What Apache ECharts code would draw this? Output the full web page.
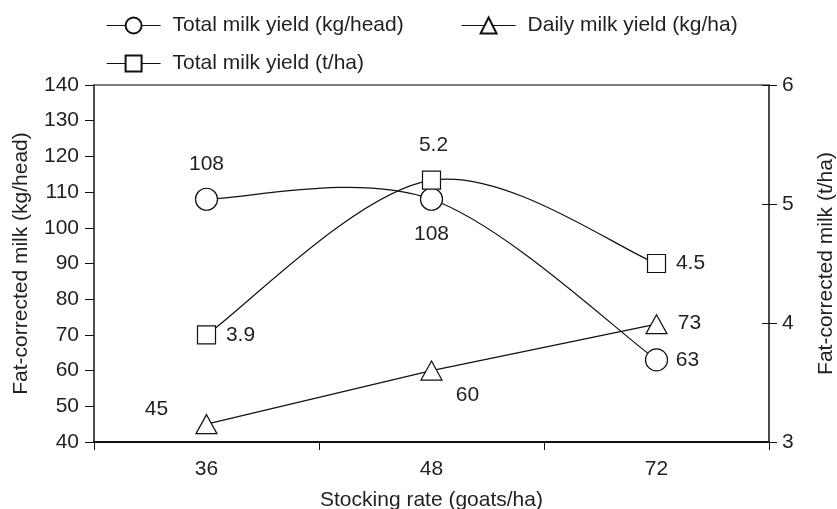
<!DOCTYPE html>
<html>
<head>
<meta charset="utf-8">
<script src="https://cdn.jsdelivr.net/npm/echarts@6/dist/echarts.min.js"></script>
<style>
  html, body { margin: 0; padding: 0; background: #fff; }
  #chart { width: 837px; height: 509px; }
</style>
</head>
<body>
<div id="chart"></div>
<script>
// Stocking rate categories (goats/ha)
const stockingRates = ['36', '48', '72'];

// Fat-corrected milk per head (kg/head), left axis
const totalYieldPerHead = [108, 108, 63];
// Daily milk yield (kg/ha), left axis
const dailyYieldPerHa = [45, 60, 73];
// Total milk yield (t/ha), right axis
const totalYieldPerHa = [3.9, 5.2, 4.5];

// Label placement relative to each marker centre (style only)
const headLabelOffsets = [[0, -35], [0, 35], [31, 0]];
const dailyLabelOffsets = [[-50, -15], [36, 25], [33, -1]];
const haLabelOffsets = [[34, 0], [2, -35], [34, 0]];

const FONT = 'Liberation Sans, Arial, Helvetica, sans-serif';
const INK = '#231f20';
const LINE = '#111';
const FS = 21;

function withLabels(values, offsets) {
  return values.map((v, i) => ({
    value: v,
    label: { offset: offsets[i] }
  }));
}

// Cardinal (Catmull-Rom style) spline segment between point i and i+1,
// positioned through the axes with api.coord.
function splineSegment(values) {
  const n = values.length;
  return function (params, api) {
    const i = params.dataIndex;
    const pt = k => {
      const c = Math.max(0, Math.min(n - 1, k));
      return api.coord([c, values[c]]);
    };
    const p0 = pt(i - 1), p1 = pt(i), p2 = pt(i + 1), p3 = pt(i + 2);
    const t = 1 / 6;
    return {
      type: 'bezierCurve',
      shape: {
        x1: p1[0], y1: p1[1],
        cpx1: p1[0] + (p2[0] - p0[0]) * t, cpy1: p1[1] + (p2[1] - p0[1]) * t,
        cpx2: p2[0] - (p3[0] - p1[0]) * t, cpy2: p2[1] - (p3[1] - p1[1]) * t,
        x2: p2[0], y2: p2[1]
      },
      style: { stroke: LINE, lineWidth: 1.2, fill: null }
    };
  };
}

function segments(values) {
  return values.slice(0, -1).map((v, i) => [i, v]);
}

const baseLabel = {
  show: true,
  position: 'inside',
  color: INK,
  fontFamily: FONT,
  fontSize: FS,
  formatter: p => String(p.value)
};

const chart = echarts.init(document.getElementById('chart'), null, { renderer: 'canvas' });

const legendCommon = {
  orient: 'horizontal',
  padding: 0,
  itemWidth: 54,
  itemHeight: 20,
  selectedMode: false,
  lineStyle: { color: LINE, width: 1.2, opacity: 1, type: 'solid' },
  textStyle: { color: INK, fontFamily: FONT, fontSize: FS, padding: [0, 0, 0, 7] }
};

const markerStyle = { color: '#fff', borderColor: LINE, borderWidth: 1.2, opacity: 1 };

chart.setOption({
  animation: false,
  backgroundColor: '#fff',
  textStyle: { fontFamily: FONT },
  grid: { left: 94, right: 68, top: 85, bottom: 67, containLabel: false, outerBoundsMode: 'none' },
  legend: [
    Object.assign({}, legendCommon, { left: 106, top: 15, data: ['Total milk yield (kg/head)'] }),
    Object.assign({}, legendCommon, { left: 461, top: 15, data: ['Daily milk yield (kg/ha)'] }),
    Object.assign({}, legendCommon, { left: 106, top: 53, data: ['Total milk yield (t/ha)'] })
  ],
  xAxis: [
    {
      type: 'category',
      data: stockingRates,
      boundaryGap: true,
      position: 'bottom',
      name: 'Stocking rate (goats/ha)',
      nameLocation: 'middle',
      nameGap: 48,
      nameTextStyle: { color: INK, fontFamily: FONT, fontSize: FS, verticalAlign: 'top' },
      axisLine: { lineStyle: { color: LINE, width: 2 } },
      axisTick: { show: true, length: 8, alignWithLabel: false, lineStyle: { color: LINE, width: 1 } },
      axisLabel: { color: INK, fontFamily: FONT, fontSize: FS, margin: 17 },
      splitLine: { show: false }
    },
    {
      type: 'category',
      data: stockingRates,
      position: 'top',
      axisLine: { lineStyle: { color: '#555', width: 1.5 } },
      axisTick: { show: false },
      axisLabel: { show: false },
      splitLine: { show: false }
    }
  ],
  yAxis: [
    {
      type: 'value',
      min: 40,
      max: 140,
      interval: 10,
      position: 'left',
      name: 'Fat-corrected milk (kg/head)',
      nameLocation: 'middle',
      nameGap: 62,
      nameRotate: 90,
      nameTextStyle: { color: INK, fontFamily: FONT, fontSize: FS },
      axisLine: { show: true, lineStyle: { color: LINE, width: 1.5 } },
      axisTick: { show: true, length: 9, lineStyle: { color: LINE, width: 1 } },
      axisLabel: { color: INK, fontFamily: FONT, fontSize: FS, margin: 15 },
      splitLine: { show: false }
    },
    {
      type: 'value',
      min: 3,
      max: 6,
      interval: 1,
      position: 'right',
      name: 'Fat-corrected milk (t/ha)',
      nameLocation: 'middle',
      nameGap: 47,
      nameRotate: 90,
      nameTextStyle: { color: INK, fontFamily: FONT, fontSize: FS },
      axisLine: { show: true, lineStyle: { color: LINE, width: 1.5 } },
      axisTick: { show: true, length: 8, lineStyle: { color: LINE, width: 1 } },
      axisLabel: { color: INK, fontFamily: FONT, fontSize: FS, margin: 13 },
      splitLine: { show: false }
    },
    {
      // inner half of the crossing ticks on the right-hand axis
      type: 'value',
      min: 3,
      max: 6,
      interval: 1,
      position: 'right',
      axisLine: { show: false },
      axisTick: { show: true, inside: true, length: 7, lineStyle: { color: LINE, width: 1 } },
      axisLabel: { show: false },
      splitLine: { show: false }
    }
  ],
  series: [
    // smooth connecting curves
    {
      name: 'kg/head curve',
      type: 'custom',
      coordinateSystem: 'cartesian2d',
      xAxisIndex: 0,
      yAxisIndex: 0,
      silent: true,
      renderItem: splineSegment(totalYieldPerHead),
      data: segments(totalYieldPerHead),
      z: 2
    },
    {
      name: 't/ha curve',
      type: 'custom',
      coordinateSystem: 'cartesian2d',
      xAxisIndex: 0,
      yAxisIndex: 1,
      silent: true,
      renderItem: splineSegment(totalYieldPerHa),
      data: segments(totalYieldPerHa),
      z: 2
    },
    // markers and value labels
    {
      name: 'Total milk yield (kg/head)',
      type: 'line',
      yAxisIndex: 0,
      data: withLabels(totalYieldPerHead, headLabelOffsets),
      symbol: 'circle',
      symbolSize: 22,
      lineStyle: { color: LINE, width: 1.2, opacity: 0 },
      itemStyle: markerStyle,
      label: baseLabel,
      z: 3
    },
    {
      name: 'Daily milk yield (kg/ha)',
      type: 'line',
      yAxisIndex: 0,
      smooth: false,
      data: withLabels(dailyYieldPerHa, dailyLabelOffsets),
      symbol: 'triangle',
      symbolSize: [21, 19],
      lineStyle: { color: LINE, width: 1.2 },
      itemStyle: markerStyle,
      label: baseLabel,
      z: 3
    },
    {
      name: 'Total milk yield (t/ha)',
      type: 'line',
      yAxisIndex: 1,
      data: withLabels(totalYieldPerHa, haLabelOffsets),
      symbol: 'rect',
      symbolSize: 18,
      lineStyle: { color: LINE, width: 1.2, opacity: 0 },
      itemStyle: markerStyle,
      label: baseLabel,
      z: 3
    }
  ]
});
</script>
</body>
</html>
